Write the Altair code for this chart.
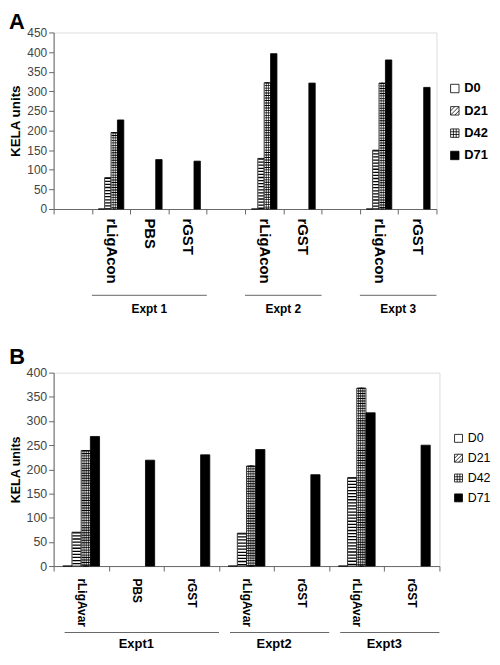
import altair as alt
import pandas as pd

# ---------------- data ----------------
series = ["D0", "D21", "D42", "D71"]

# Panel A
A_cats = ["1|", "1|rLigAcon", "1|PBS", "1|rGST",
          "2|", "2|rLigAcon", "2|rGST",
          "3|", "3|rLigAcon", "3|rGST"]
A_D0 = [None, 0, None, None, None, 0, None, None, 0, None]
A_D21 = [None, 80, None, None, None, 129, None, None, 150, None]
A_D42 = [None, 195, None, None, None, 322, None, None, 321, None]
A_D71 = [None, 227, 126, 122, None, 396, 321, None, 380, 310]
A_groups = ["Expt 1", "Expt 2", "Expt 3"]

# Panel B
B_cats = ["1|rLigAvar", "1|PBS", "1|rGST",
          "2|rLigAvar", "2|rGST",
          "3|rLigAvar", "3|rGST"]
B_D0 = [0, None, None, 0, None, 0, None]
B_D21 = [70, None, None, 68, None, 183, None]
B_D42 = [239, None, None, 207, None, 368, None]
B_D71 = [268, 219, 230, 241, 189, 317, 250]
B_groups = ["Expt1", "Expt2", "Expt3"]

FONT = "Liberation Sans"

# legend symbols (unit paths)
SQ = "M-1,-1H1V1H-1Z"
HATCH = SQ + " M-1,0L0,-1 M-1,1L1,-1 M0,1L1,0"
GRID = SQ + " M-0.33,-1V1 M0.33,-1V1 M-1,-0.33H1 M-1,0.33H1"

SLOTS = ["<"] + series + [">"]   # gap slot, 4 series slots, gap slot per category


def long_df(cats, cols):
    rows = []
    for s, vals in zip(series, cols):
        for c, v in zip(cats, vals):
            if v is not None:
                rows.append({"cat": c, "series": s, "slot": c + "#" + s, "value": v})
    return pd.DataFrame(rows)


def group_df(cats, groups, inset):
    rows = []
    for gi, g in enumerate(groups):
        idx = [i for i, c in enumerate(cats)
               if c.split("|")[0] == str(gi + 1) and c.split("|")[1] != ""]
        s, e = min(idx), max(idx) + 1
        rows.append({"name": g, "start": s + inset, "end": e, "mid": (s + e) / 2})
    return pd.DataFrame(rows)


def panel(title, cats, cols, groups, ymax, W, H, xlab_size, xlab_pad,
          rule_w, inner_bands, grp_inset, line_y, text_y, grp_size,
          ytitle_size, ylab_size, leg_x, leg_y, leg_size, leg_weight, leg_rowpad,
          sym_size, title_offset):
    df = long_df(cats, cols)
    n = len(cats)
    gdf = group_df(cats, groups, grp_inset)
    slot_domain = [c + "#" + s for c in cats for s in SLOTS]

    y = alt.Y("value:Q", scale=alt.Scale(domain=[0, ymax], nice=False),
              axis=alt.Axis(title="KELA units", titleFont=FONT, titleFontSize=ytitle_size,
                            titleFontWeight="bold", titleColor="black", titlePadding=4,
                            labelFont=FONT, labelFontSize=ylab_size, labelColor="#444",
                            values=list(range(0, ymax + 1, 50)),
                            tickSize=5, tickColor="#666", domainColor="#666", grid=False,
                            labelPadding=2))

    xs = alt.X("slot:N", scale=alt.Scale(domain=slot_domain, paddingInner=0, paddingOuter=0),
               axis=None)

    base = alt.Chart(df)
    bars = base.mark_bar(stroke="black", strokeWidth=0.8).encode(
        x=xs, y=y,
        fill=alt.condition(alt.datum.series == "D71", alt.value("black"), alt.value("white")),
    )
    layers = [bars]
    for b in inner_bands:
        layers.append(base.transform_filter(alt.datum.series == "D42").mark_bar(
            width=alt.RelativeBandSize(b), fillOpacity=0, stroke="black", strokeWidth=0.7
        ).encode(x=xs, y=y))
    layers.append(base.transform_filter(alt.datum.series == "D42").mark_rule(
        strokeWidth=rule_w, strokeDash=[0.9, 1.6], color="black"
    ).encode(x=xs, y=y, y2=alt.datum(0)))
    layers.append(base.transform_filter(alt.datum.series == "D21").mark_rule(
        strokeWidth=rule_w, strokeDash=[1.3, 1.8], color="black"
    ).encode(x=xs, y=y, y2=alt.datum(0)))
    bar_layer = alt.layer(*layers)

    # axis + legend carrier (invisible points on the category band scale)
    xc = alt.X("cat:N", scale=alt.Scale(domain=cats, paddingInner=0, paddingOuter=0),
               axis=alt.Axis(title=None, labelAngle=90, labelExpr="split(datum.label, '|')[1]",
                             labelFont=FONT, labelFontSize=xlab_size, labelFontWeight="bold",
                             labelColor="black", tickBand="extent", tickSize=5,
                             tickColor="#666", domainColor="#666", labelPadding=xlab_pad,
                             grid=False))
    leg = alt.Legend(title=None, orient="none", legendX=leg_x, legendY=leg_y,
                     labelFont=FONT, labelFontSize=leg_size, labelFontWeight=leg_weight,
                     labelColor="black", symbolSize=sym_size,
                     symbolStrokeWidth=0.8, rowPadding=leg_rowpad, labelOffset=3, padding=0)
    pts = base.mark_point(filled=True, size=0, opacity=1).encode(
        x=xc, y=y,
        fill=alt.Fill("series:N", scale=alt.Scale(domain=series,
                                                  range=["white", "white", "white", "black"]),
                      legend=leg),
        stroke=alt.Stroke("series:N", scale=alt.Scale(domain=series,
                                                      range=["black", "black", "black", "black"]),
                          legend=leg),
        shape=alt.Shape("series:N", scale=alt.Scale(domain=series, range=[SQ, HATCH, GRID, SQ]),
                        legend=leg),
    )

    gx = alt.Scale(domain=[0, n], nice=False, zero=False)
    gbase = alt.Chart(gdf)
    glines = gbase.mark_rule(color="#666", strokeWidth=1).encode(
        x=alt.X("start:Q", scale=gx, axis=None), x2="end:Q", y=alt.value(line_y))
    gtext = gbase.mark_text(font=FONT, fontSize=grp_size, fontWeight="bold",
                            color="black", baseline="middle").encode(
        x=alt.X("mid:Q", scale=gx, axis=None), y=alt.value(text_y), text="name:N")

    return alt.layer(pts, bar_layer, glines, gtext).resolve_scale(x="independent").properties(
        width=W, height=H,
        title=alt.TitleParams(title, anchor="start", frame="bounds", fontSize=22,
                              fontWeight="bold", font=FONT, color="black", offset=title_offset))


pA = panel("A", A_cats, [A_D0, A_D21, A_D42, A_D71], A_groups, 450, 386, 178,
           15, 4, 5.5, [0.34], 0.0, 265, 279, 12, 13.5, 12,
           398, 50, 13, "bold", 8.5, 72, -8)
pB = panel("B", B_cats, [B_D0, B_D21, B_D42, B_D71], B_groups, 400, 389, 195,
           12, 7, 8.3, [0.6, 0.2], 0.2, 262, 274, 13, 12.6, 12.5,
           402, 60, 12.5, "normal", 7, 64, -2)

chart = alt.vconcat(pA, pB, spacing=29).resolve_scale(
    fill="independent", stroke="independent", shape="independent"
).resolve_legend(fill="independent", stroke="independent", shape="independent").properties(
    padding=0
).configure_view(stroke=None).configure(background="white")

chart.save("out.html", embed_options={"renderer": "svg", "actions": False})
